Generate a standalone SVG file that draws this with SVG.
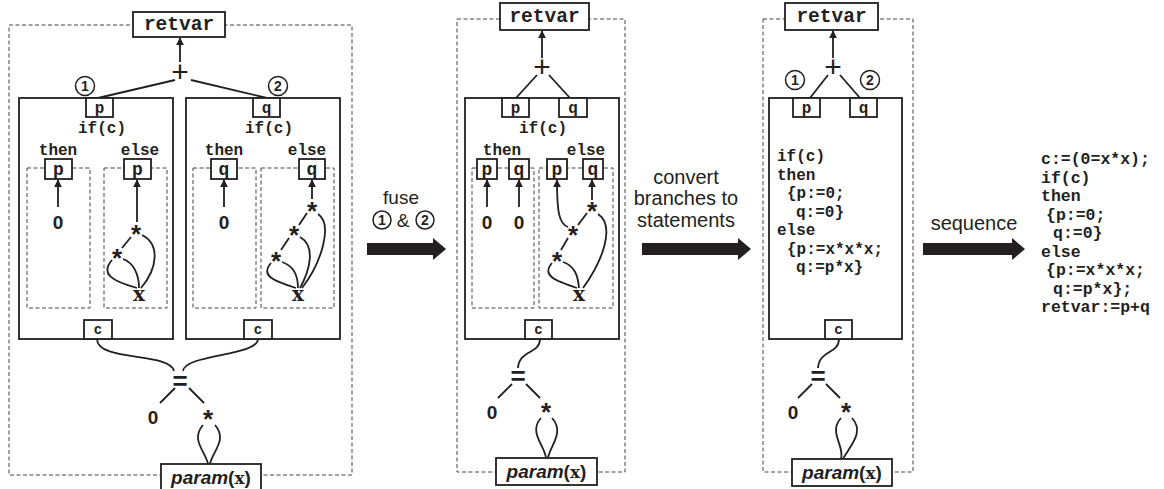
<svg xmlns="http://www.w3.org/2000/svg" width="1164" height="489" viewBox="0 0 1164 489">
<style>
.box{fill:#fff;stroke:#231f20;stroke-width:1.8}
.frame{fill:none;stroke:#231f20;stroke-width:1.8}
.dash{fill:none;stroke:#444;stroke-width:1;stroke-dasharray:4 2.5}
.ln{fill:none;stroke:#231f20;stroke-width:1.8}
.arr{marker-end:url(#ah)}
.mono{font-family:"Liberation Mono","Courier New",monospace;font-weight:bold;fill:#231f20}
.sans{font-family:"Liberation Sans",Arial,sans-serif;fill:#231f20}
.b{font-weight:bold}
.c{text-anchor:middle}
.circ{fill:#fff;stroke:#231f20;stroke-width:1.5}
.big{fill:#231f20}
.star{font-family:"Liberation Sans",Arial,sans-serif;font-weight:bold;fill:#231f20;text-anchor:middle;font-size:26px}
.plus{font-family:"Liberation Sans",Arial,sans-serif;fill:#231f20;text-anchor:middle;font-size:30px}
.num{font-family:"Liberation Sans",Arial,sans-serif;font-weight:bold;fill:#231f20;text-anchor:middle;font-size:14px}
.xv{font-family:"DejaVu Serif","Liberation Serif",serif;font-weight:bold;fill:#231f20;text-anchor:middle;font-size:20px}
</style>
<defs>
<marker id="ah" viewBox="0 0 10 10" refX="9" refY="5" markerWidth="8" markerHeight="8" markerUnits="userSpaceOnUse" orient="auto">
<path d="M0,0 L10,5 L0,10 z" fill="#231f20"/>
</marker>
</defs>
<rect width="1164" height="489" fill="#fff"/>

<!-- ============ PANEL 1 ============ -->
<g id="panel1">
<rect class="dash" x="9" y="25" width="343" height="450"/>
<g id="p1-connectors">
<line class="ln arr" x1="180" y1="62" x2="180" y2="38"/>
<line class="ln" x1="175" y1="80" x2="98" y2="98"/>
<line class="ln" x1="191" y1="80" x2="267" y2="98"/>
<line class="ln arr" x1="58" y1="207" x2="58" y2="180"/>
<line class="ln arr" x1="137" y1="222" x2="137" y2="180"/>
<line class="ln" x1="131" y1="237" x2="122" y2="248"/>
<path class="ln" d="M142,235 C160,244 158,268 141,288"/>
<path class="ln" d="M123,259 C134,263 139,275 139,288"/>
<path class="ln" d="M112,260 C100,274 112,281 137,288"/>
<line class="ln arr" x1="224" y1="207" x2="224" y2="180"/>
<line class="ln arr" x1="312" y1="199" x2="312" y2="180"/>
<line class="ln" x1="307" y1="213" x2="299" y2="225"/>
<line class="ln" x1="289" y1="238" x2="281" y2="250"/>
<path class="ln" d="M318,214 C333,224 322,262 302,288"/>
<path class="ln" d="M300,237 C316,246 310,270 300,288"/>
<path class="ln" d="M282,262 C294,266 298,276 298,288"/>
<path class="ln" d="M271,263 C260,276 274,281 296,288"/>
<path class="ln" d="M97,339 C97,362 170,352 174,371"/>
<path class="ln" d="M258,339 C258,356 185,354 183,371"/>
<line class="ln" x1="175" y1="388" x2="160" y2="403"/>
<line class="ln" x1="189" y1="388" x2="204" y2="403"/>
<path class="ln" d="M203,425 C190,440 206,452 208,464"/>
<path class="ln" d="M215,425 C228,440 212,452 210,464"/>
</g>
<g id="p1-retvar"><rect class="box" x="133" y="12" width="92" height="25"/><text class="mono c" x="179" y="30" font-size="19.5">retvar</text></g>
<g id="p1-plus"><text class="plus" x="180" y="82">+</text></g>
<g id="p1-c1"><circle class="circ" cx="85" cy="86" r="9.5"/><text class="num" x="85" y="91">1</text></g>
<g id="p1-c2"><circle class="circ" cx="278" cy="86" r="9.5"/><text class="num" x="278" y="91">2</text></g>
<g id="p1-ifp">
<rect class="frame" x="19" y="98" width="154" height="241"/>
<rect class="box" x="86" y="98" width="27" height="19"/><text class="mono c" x="99.5" y="113" font-size="16">p</text>
<text class="mono c" x="102" y="133" font-size="16">if(c)</text>
<text class="mono c" x="58" y="155" font-size="16">then</text>
<text class="mono c" x="140" y="155" font-size="16">else</text>
<rect class="dash" x="27" y="168" width="63" height="140"/>
<rect class="dash" x="104" y="168" width="63" height="140"/>
<rect class="box" x="45" y="159" width="27" height="20"/><text class="mono c" x="58.5" y="175" font-size="18">p</text>
<rect class="box" x="124" y="159" width="27" height="20"/><text class="mono c" x="137.5" y="175" font-size="18">p</text>
<text class="sans b c" x="58" y="229" font-size="19">0</text>
<text class="star" x="136" y="243">*</text>
<text class="star" x="117" y="267">*</text>
<text class="xv" x="139" y="301">x</text>
<rect class="box" x="84" y="320" width="28" height="19"/><text class="mono c" x="98" y="334" font-size="14">c</text>
</g>
<g id="p1-ifq">
<rect class="frame" x="186" y="98" width="154" height="241"/>
<rect class="box" x="253" y="98" width="27" height="19"/><text class="mono c" x="266.5" y="113" font-size="16">q</text>
<text class="mono c" x="269" y="133" font-size="16">if(c)</text>
<text class="mono c" x="224" y="155" font-size="16">then</text>
<text class="mono c" x="307" y="155" font-size="16">else</text>
<rect class="dash" x="193" y="168" width="63" height="140"/>
<rect class="dash" x="261" y="168" width="73" height="140"/>
<rect class="box" x="211" y="159" width="26" height="20"/><text class="mono c" x="224" y="175" font-size="18">q</text>
<rect class="box" x="299" y="159" width="26" height="20"/><text class="mono c" x="312" y="175" font-size="18">q</text>
<text class="sans b c" x="224" y="229" font-size="19">0</text>
<text class="star" x="312" y="220">*</text>
<text class="star" x="294" y="244">*</text>
<text class="star" x="276" y="270">*</text>
<text class="xv" x="298" y="301">x</text>
<rect class="box" x="244" y="320" width="28" height="19"/><text class="mono c" x="258" y="334" font-size="14">c</text>
</g>
<g id="p1-eq"><text class="sans b c" x="180" y="390" font-size="26">=</text></g>
<g id="p1-zero"><text class="sans b c" x="153" y="424" font-size="19">0</text></g>
<g id="p1-mul"><text class="star" x="208" y="428">*</text></g>
<g id="p1-param"><rect class="box" x="161" y="464" width="100" height="27"/><text class="sans b c" x="211" y="484" font-size="19"><tspan font-style="italic">param</tspan>(<tspan font-family="DejaVu Serif,serif" font-size="17">x</tspan>)</text></g>
</g>

<!-- ============ ARROW 1 ============ -->
<g id="step-fuse">
<path class="big" d="M367,243 H433 V238 L446,249 L433,260 V255 H367 Z"/>
<text class="sans c" x="401" y="204" font-size="19">fuse</text>
<circle class="circ" cx="382" cy="220" r="9"/><text class="num" x="382" y="225">1</text>
<text class="sans c" x="403" y="227" font-size="19">&amp;</text>
<circle class="circ" cx="425" cy="220" r="9"/><text class="num" x="425" y="225">2</text>
</g>

<!-- ============ PANEL 2 ============ -->
<g id="panel2">
<rect class="dash" x="457" y="19" width="168" height="453"/>
<g id="p2-connectors">
<line class="ln arr" x1="542" y1="58" x2="542" y2="31"/>
<line class="ln" x1="537" y1="75" x2="516" y2="98"/>
<line class="ln" x1="549" y1="75" x2="570" y2="98"/>
<line class="ln arr" x1="487" y1="207" x2="487" y2="180"/>
<line class="ln arr" x1="519" y1="207" x2="519" y2="180"/>
<line class="ln arr" x1="592" y1="200" x2="592" y2="180"/>
<path class="ln arr" d="M568,227 C559,224 557,212 557,180"/>
<line class="ln" x1="587" y1="213" x2="578" y2="225"/>
<line class="ln" x1="568" y1="238" x2="561" y2="250"/>
<path class="ln" d="M598,214 C616,226 602,262 583,288"/>
<path class="ln" d="M563,262 C575,266 578,276 579,288"/>
<path class="ln" d="M552,263 C541,276 556,281 577,288"/>
<path class="ln" d="M540,339 C540,354 519,350 518,368"/>
<line class="ln" x1="512" y1="384" x2="498" y2="398"/>
<line class="ln" x1="526" y1="384" x2="540" y2="398"/>
<path class="ln" d="M541,418 C528,432 545,446 546,458"/>
<path class="ln" d="M552,418 C565,432 550,446 548,458"/>
</g>
<g id="p2-retvar"><rect class="box" x="500" y="3" width="89" height="27"/><text class="mono c" x="544.5" y="22" font-size="19.5">retvar</text></g>
<g id="p2-plus"><text class="plus" x="542" y="77">+</text></g>
<g id="p2-if">
<rect class="frame" x="465" y="98" width="154" height="241"/>
<rect class="box" x="502" y="98" width="27" height="19"/><text class="mono c" x="515.5" y="113" font-size="16">p</text>
<rect class="box" x="559" y="98" width="28" height="19"/><text class="mono c" x="573" y="113" font-size="16">q</text>
<text class="mono c" x="543" y="133" font-size="16">if(c)</text>
<text class="mono c" x="502" y="155" font-size="16">then</text>
<text class="mono c" x="586" y="155" font-size="16">else</text>
<rect class="dash" x="472" y="168" width="62" height="140"/>
<rect class="dash" x="539" y="168" width="74" height="140"/>
<rect class="box" x="477" y="159" width="20" height="20"/><text class="mono c" x="487" y="175" font-size="18">p</text>
<rect class="box" x="509" y="159" width="20" height="20"/><text class="mono c" x="519" y="175" font-size="18">q</text>
<rect class="box" x="547" y="159" width="20" height="20"/><text class="mono c" x="557" y="175" font-size="18">p</text>
<rect class="box" x="583" y="159" width="20" height="20"/><text class="mono c" x="593" y="175" font-size="18">q</text>
<text class="sans b c" x="487" y="229" font-size="19">0</text>
<text class="sans b c" x="519" y="229" font-size="19">0</text>
<text class="star" x="592" y="220">*</text>
<text class="star" x="573" y="244">*</text>
<text class="star" x="557" y="270">*</text>
<text class="xv" x="579" y="301">x</text>
<rect class="box" x="525" y="320" width="27" height="19"/><text class="mono c" x="538.5" y="334" font-size="14">c</text>
</g>
<g id="p2-eq"><text class="sans b c" x="518" y="385" font-size="26">=</text></g>
<g id="p2-zero"><text class="sans b c" x="492" y="419" font-size="19">0</text></g>
<g id="p2-mul"><text class="star" x="546" y="421">*</text></g>
<g id="p2-param"><rect class="box" x="496" y="458" width="101" height="27"/><text class="sans b c" x="546.5" y="478" font-size="19"><tspan font-style="italic">param</tspan>(<tspan font-family="DejaVu Serif,serif" font-size="17">x</tspan>)</text></g>
</g>

<!-- ============ ARROW 2 ============ -->
<g id="step-convert">
<path class="big" d="M642,243 H738 V238 L751,249 L738,260 V255 H642 Z"/>
<text class="sans c" x="686" y="184" font-size="20">convert</text>
<text class="sans c" x="686" y="205" font-size="20">branches to</text>
<text class="sans c" x="686" y="227" font-size="20">statements</text>
</g>

<!-- ============ PANEL 3 ============ -->
<g id="panel3">
<rect class="dash" x="763" y="19" width="150" height="453"/>
<g id="p3-connectors">
<line class="ln arr" x1="833" y1="58" x2="833" y2="31"/>
<line class="ln" x1="828" y1="75" x2="810" y2="98"/>
<line class="ln" x1="840" y1="75" x2="860" y2="98"/>
<path class="ln" d="M839,339 C839,354 819,350 818,368"/>
<line class="ln" x1="812" y1="384" x2="798" y2="398"/>
<line class="ln" x1="826" y1="384" x2="840" y2="398"/>
<path class="ln" d="M841,418 C828,432 845,446 841,459"/>
<path class="ln" d="M852,418 C865,432 850,446 843,459"/>
</g>
<g id="p3-retvar"><rect class="box" x="785" y="3" width="93" height="27"/><text class="mono c" x="831.5" y="22" font-size="19.5">retvar</text></g>
<g id="p3-plus"><text class="plus" x="833" y="77">+</text></g>
<g id="p3-c1"><circle class="circ" cx="795" cy="80" r="9.5"/><text class="num" x="795" y="85">1</text></g>
<g id="p3-c2"><circle class="circ" cx="870" cy="80" r="9.5"/><text class="num" x="870" y="85">2</text></g>
<g id="p3-if">
<rect class="frame" x="769" y="98" width="133" height="241"/>
<rect class="box" x="793" y="98" width="27" height="19"/><text class="mono c" x="806.5" y="113" font-size="16">p</text>
<rect class="box" x="850" y="98" width="27" height="19"/><text class="mono c" x="863.5" y="113" font-size="16">q</text>
<text class="mono" font-size="16">
<tspan x="777" y="161">if(c)</tspan>
<tspan x="777" y="179.5">then</tspan>
<tspan x="787" y="198">{p:=0;</tspan>
<tspan x="796" y="216.5">q:=0}</tspan>
<tspan x="777" y="235">else</tspan>
<tspan x="787" y="253.5">{p:=x*x*x;</tspan>
<tspan x="796" y="272">q:=p*x}</tspan>
</text>
<rect class="box" x="825" y="320" width="27" height="19"/><text class="mono c" x="838.5" y="334" font-size="14">c</text>
</g>
<g id="p3-eq"><text class="sans b c" x="818" y="385" font-size="26">=</text></g>
<g id="p3-zero"><text class="sans b c" x="793" y="419" font-size="19">0</text></g>
<g id="p3-mul"><text class="star" x="846" y="421">*</text></g>
<g id="p3-param"><rect class="box" x="792" y="459" width="100" height="27"/><text class="sans b c" x="842" y="479" font-size="19"><tspan font-style="italic">param</tspan>(<tspan font-family="DejaVu Serif,serif" font-size="17">x</tspan>)</text></g>
</g>

<!-- ============ ARROW 3 ============ -->
<g id="step-sequence">
<path class="big" d="M923,243 H1012 V238 L1025,249 L1012,260 V255 H923 Z"/>
<text class="sans c" x="974" y="230" font-size="20">sequence</text>
</g>

<!-- ============ RESULT ============ -->
<g id="result">
<text class="mono" font-size="16.5">
<tspan x="1041" y="164">c:=(0=x*x);</tspan>
<tspan x="1041" y="182.5">if(c)</tspan>
<tspan x="1041" y="201">then</tspan>
<tspan x="1046" y="219.5">{p:=0;</tspan>
<tspan x="1053" y="238">q:=0}</tspan>
<tspan x="1041" y="256.5">else</tspan>
<tspan x="1046" y="275">{p:=x*x*x;</tspan>
<tspan x="1053" y="293.5">q:=p*x};</tspan>
<tspan x="1041" y="312">retvar:=p+q</tspan>
</text>
</g>
</svg>
